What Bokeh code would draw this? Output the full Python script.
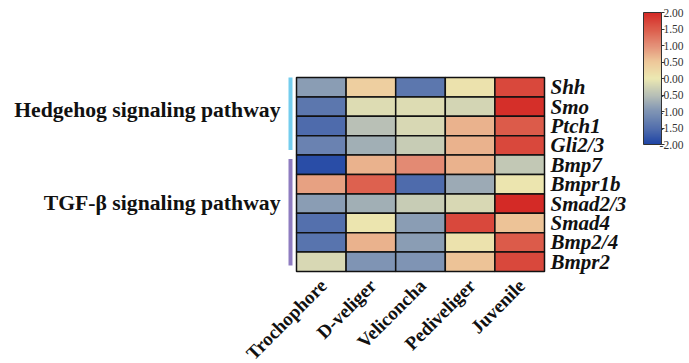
from bokeh.plotting import figure
from bokeh.models import (ColumnDataSource, LinearColorMapper, ColorBar, FixedTicker,
                          Range1d)
from bokeh.core.properties import value
from bokeh.embed import file_html
from bokeh.resources import INLINE

# ---------------- data ----------------
genes = ["Shh", "Smo", "Ptch1", "Gli2/3", "Bmp7", "Bmpr1b", "Smad2/3", "Smad4", "Bmp2/4", "Bmpr2"]
stages = ["Trochophore", "D-veliger", "Veliconcha", "Pediveliger", "Juvenile"]
pathways = ["Hedgehog signaling pathway", "TGF-\u03b2 signaling pathway"]
pathway_sizes = [4, 6]

trochophore = [-0.9, -1.4, -1.55, -1.25, -1.9, 0.85, -0.9, -1.5, -1.45, -0.2]
d_veliger = [0.4, -0.15, -0.5, -0.7, 0.7, 1.45, -0.7, 0.05, 0.7, -1.0]
veliconcha = [-1.4, -0.15, -0.2, -0.35, 1.05, -1.55, -0.35, -0.9, -0.9, -1.0]
pediveliger = [0.1, -0.25, 0.7, 0.7, 0.7, -0.75, -0.2, 1.7, 0.1, 0.55]
juvenile = [1.7, 1.95, 1.5, 1.7, -0.4, 0.05, 2.0, 0.55, 1.5, 1.7]

colorbar_ticks = [-2.0, -1.5, -1.0, -0.5, 0.0, 0.5, 1.0, 1.5, 2.0]
colorbar_labels = ["-2.00", "-1.50", "-1.00", "-0.50", "0.00", "0.50", "1.00", "1.50", "2.00"]

# ---------------- palette ----------------
anchors = [(31, 69, 165), (84, 112, 173), (127, 148, 180), (184, 192, 182), (236, 232, 178),
           (238, 201, 155), (228, 144, 120), (220, 92, 75), (212, 42, 38)]
palette = []
n = 256
for k in range(n):
    t = k / (n - 1) * (len(anchors) - 1)
    i = min(int(t), len(anchors) - 2)
    f = t - i
    c = [round(anchors[i][j] + (anchors[i + 1][j] - anchors[i][j]) * f) for j in range(3)]
    palette.append("#%02x%02x%02x" % tuple(c))
low, high = -2, 2
mapper = LinearColorMapper(palette=palette, low=low, high=high)

# ---------------- source ----------------
cols = [trochophore, d_veliger, veliconcha, pediveliger, juvenile]
xs, ys, vals = [], [], []
for ci, col in enumerate(cols):
    for ri, v in enumerate(col):
        xs.append(ci)
        ys.append(ri)
        vals.append(v)
src = ColumnDataSource(dict(x=xs, y=ys, v=vals))

W, H = 689, 363
left_px, top_px, cw, rh = 296, 77, 49.6, 19.4
x0 = -0.5 - left_px / cw
x1 = -0.5 + (W - left_px) / cw
ytop = -0.5 - top_px / rh
ybot = -0.5 + (H - top_px) / rh

p = figure(width=W, height=H, output_backend="svg", toolbar_location=None,
           x_range=Range1d(x0, x1), y_range=Range1d(ybot, ytop),
           x_axis_location=None, y_axis_location=None, min_border=0)
p.outline_line_color = None
p.grid.visible = False
p.background_fill_color = "white"

p.rect(x="x", y="y", width=1, height=1, source=src,
       fill_color={"field": "v", "transform": mapper},
       line_color="#111111", line_width=1.5)

font = value("Liberation Serif")

# gene labels (right)
p.text(x=[4.5 + 6 / cw] * len(genes), y=list(range(len(genes))), text=genes,
       text_font=font, text_font_style="bold italic", text_font_size="21px",
       text_align="left", text_baseline="middle", text_color="#111111")

# stage labels (below, rotated)
p.text(x=[i + 2 / cw for i in range(len(stages))], y=[len(genes) - 0.5 + 11 / rh] * len(stages),
       text=stages, angle=0.785398, text_font=font, text_font_style="bold",
       text_font_size="19px", text_align="right", text_baseline="middle", text_color="#111111")

# pathway bars & labels
bar_colors = ["#74cdee", "#8e7cc0"]
starts = [0, pathway_sizes[0]]
bx = -0.5 - 6 / cw
seg_y0 = [starts[0] - 0.5, starts[1] - 0.5 + 4 / rh]
seg_y1 = [starts[0] + pathway_sizes[0] - 0.5 - 5 / rh, starts[1] + pathway_sizes[1] - 0.5 - 6 / rh]
p.segment(x0=[bx, bx], y0=seg_y0, x1=[bx, bx], y1=seg_y1, line_color=bar_colors, line_width=4)

lab_y = [starts[0] + pathway_sizes[0] / 2 - 0.5 - 0.35, starts[1] + pathway_sizes[1] / 2 - 0.5 - 0.52]
p.text(x=[-0.5 - 16 / cw] * 2, y=lab_y, text=pathways, text_font=font, text_font_style="bold",
       text_font_size="21.7px", text_align="right", text_baseline="middle", text_color="#111111")

# colorbar (bar + ticks from Bokeh; labels right-aligned as in the reference)
cb_left, cb_top, cb_w, cb_h = 643, 12, 18, 132
cb = ColorBar(color_mapper=mapper, width=cb_w, height=cb_h, location=(cb_left, H - cb_top - cb_h),
              padding=0, margin=0,
              ticker=FixedTicker(ticks=colorbar_ticks),
              major_label_overrides={t: "" for t in colorbar_ticks},
              major_label_text_font_size="1px", label_standoff=0,
              major_tick_out=3, major_tick_in=0, major_tick_line_color="#333333",
              bar_line_color="#333333", bar_line_width=1,
              background_fill_alpha=0, border_line_color=None)
p.add_layout(cb, "center")

lab_x = -0.5 + (683 - left_px) / cw
lab_ys = [-0.5 + (cb_top + (high - t) / (high - low) * cb_h - top_px) / rh for t in colorbar_ticks]
p.text(x=[lab_x] * len(colorbar_ticks), y=lab_ys, text=colorbar_labels,
       text_font=font, text_font_size="11.5px", text_align="right", text_baseline="middle",
       text_color="#333333")

open("out.html", "w").write(file_html(p, INLINE))
